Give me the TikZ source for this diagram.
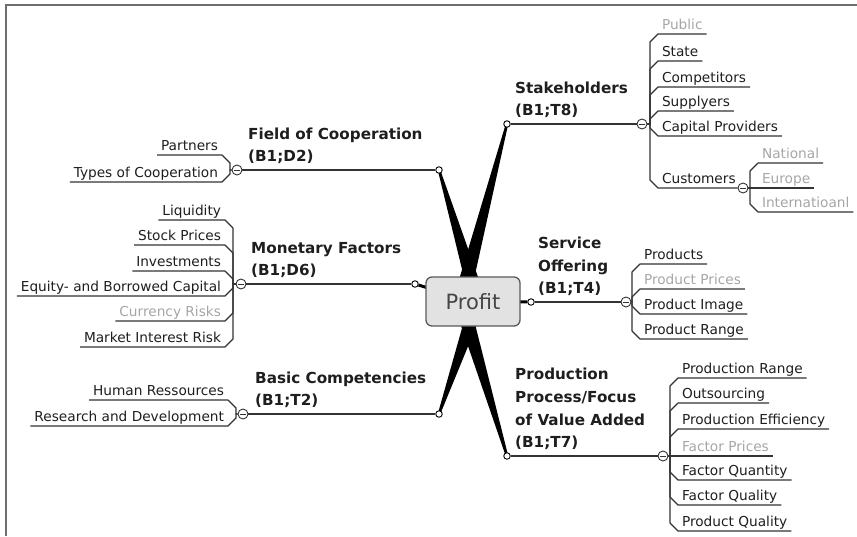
\documentclass[tikz,border=0pt]{standalone}
\usepackage{fontspec}
\setmainfont{DejaVu Sans}
\pgfdeclarelayer{bg}
\pgfsetlayers{bg,main}
\definecolor{ink}{HTML}{1E1E1E}
\definecolor{faded}{HTML}{A6A6A6}
\definecolor{wire}{HTML}{333333}
\definecolor{boxfill}{HTML}{E2E2E2}
\definecolor{boxline}{HTML}{5A5A5A}
\definecolor{hubtext}{HTML}{454545}
\definecolor{framecol}{HTML}{6E6E6E}
\newcommand\lblfont{\fontsize{13.7}{16}\selectfont}
\newcommand\ttlfont{\fontsize{15.2}{22.6}\selectfont\bfseries}

\begin{document}
\begin{tikzpicture}[x=1pt,y=-1pt,
  lbl/.style={font=\lblfont, inner xsep=4pt, inner ysep=0pt, outer sep=0pt, text height=10.5pt, text depth=5pt},
  txt/.style={text=ink},
  dim/.style={text=faded},
  ttl/.style={font=\ttlfont, text=ink, align=left, inner sep=0pt, anchor=south west},
  ln/.style={draw=wire, line width=1.2pt, line join=round},
  taper/.style={fill=black},
  endpt/.style={circle, draw=black, fill=white, line width=0.9pt, minimum size=6.5pt, inner sep=0pt},
  minus/.style={circle, draw=wire, fill=white, line width=0.9pt, minimum size=10pt, inner sep=0pt,
    path picture={\draw[wire, line width=1pt] ([xshift=-3pt]path picture bounding box.center) -- ([xshift=3pt]path picture bounding box.center);}},
  hub/.style={rounded corners=6pt, draw=boxline, fill=boxfill, line width=1.3pt, minimum width=94pt, minimum height=49pt,
    inner sep=0pt, text=hubtext, font=\fontsize{21}{25}\selectfont},
]
\useasboundingbox (0,0) rectangle (857,536);

% window frame (top and left edges)
\draw[framecol, line width=1.5pt] (857,5) -- (6,5) -- (6,536);

% central topic
\node[hub] (profit) at (473,301.5) {Profit};

% branch end points
\node[endpt] (fld-e) at (439,170) {};
\node[endpt] (stk-e) at (507,124) {};
\node[endpt] (mon-e) at (415,284) {};
\node[endpt] (srv-e) at (531,302) {};
\node[endpt] (bas-e) at (439,414) {};
\node[endpt] (prd-e) at (507,456) {};

% collapse markers
\node[minus] (fld-m) at (237,170) {};
\node[minus] (mon-m) at (241,284) {};
\node[minus] (bas-m) at (243,414) {};
\node[minus] (stk-m) at (642,124) {};
\node[minus] (srv-m) at (626,302) {};
\node[minus] (prd-m) at (663,456) {};

% main topic titles
\node[ttl] (fld-t) at (248,164) {Field of Cooperation\\(B1;D2)};
\node[ttl] (mon-t) at (251,278) {Monetary Factors\\(B1;D6)};
\node[ttl] (bas-t) at (255,408) {Basic Competencies\\(B1;T2)};
\node[ttl] (stk-t) at (515,118) {Stakeholders\\(B1;T8)};
\node[ttl] (srv-t) at (538,296) {Service\\Offering\\(B1;T4)};
\node[ttl] (prd-t) at (515,450) {Production\\Process/Focus\\of Value Added\\(B1;T7)};

\begin{pgfonlayer}{bg}
  % tapered branches: thin at the branch end, thick under the central box
  \fill[taper] (437.85,170.34) -- (470.33,303.28) -- (485.67,298.72) -- (440.15,169.66) -- cycle;
  \fill[taper] (440.13,414.39) -- (485.56,303.61) -- (470.44,298.39) -- (437.87,413.61) -- cycle;
  \fill[taper] (505.84,123.70) -- (453.26,298.99) -- (468.74,303.01) -- (508.16,124.30) -- cycle;
  \fill[taper] (508.15,455.66) -- (468.67,298.72) -- (453.33,303.28) -- (505.85,456.34) -- cycle;
  \draw[line width=3pt] (mon-e) -- (profit.center);
  \draw[line width=3pt] (srv-e) -- (profit.center);
  \draw[ln] (fld-e) -- (fld-m);
  \draw[ln] (mon-e) -- (mon-m);
  \draw[ln] (bas-e) -- (bas-m);
  \draw[ln] (stk-e) -- (stk-m);
  \draw[ln] (srv-e) -- (srv-m);
  \draw[ln] (prd-e) -- (prd-m);
\end{pgfonlayer}

% ---- left-hand subtopics ----
\foreach \nm/\yy/\txt/\tc in {par/155/Partners/txt, typ/182/Types of Cooperation/txt}{
  \node[lbl,\tc,anchor=south east] (\nm) at (222,\yy) {\txt};
  \pgfmathsetmacro\dy{\yy<170 ? 8 : -8}
  \begin{pgfonlayer}{bg}
    \draw[ln] (\nm.south west) -- (\nm.south east) -- ++(8,\dy) |- (fld-m);
  \end{pgfonlayer}
}
\foreach \nm/\yy/\txt/\tc in {liq/220/Liquidity/txt, stp/245/Stock Prices/txt, inv/271/Investments/txt,
    eqb/296/Equity- and Borrowed Capital/txt, cur/321/Currency Risks/dim, mir/347/Market Interest Risk/txt}{
  \node[lbl,\tc,anchor=south east] (\nm) at (225,\yy) {\txt};
  \pgfmathsetmacro\dy{\yy<284 ? 8 : -8}
  \begin{pgfonlayer}{bg}
    \draw[ln] (\nm.south west) -- (\nm.south east) -- ++(8,\dy) |- (mon-m);
  \end{pgfonlayer}
}
\foreach \nm/\yy/\txt/\tc in {hum/400/Human Ressources/txt, rad/426/Research and Development/txt}{
  \node[lbl,\tc,anchor=south east] (\nm) at (228,\yy) {\txt};
  \pgfmathsetmacro\dy{\yy<414 ? 8 : -8}
  \begin{pgfonlayer}{bg}
    \draw[ln] (\nm.south west) -- (\nm.south east) -- ++(8,\dy) |- (bas-m);
  \end{pgfonlayer}
}

% ---- right-hand subtopics ----
\foreach \nm/\yy/\txt/\tc in {pub/34/Public/dim, sta/61/State/txt, com/87/Competitors/txt,
    sup/111/Supplyers/txt, cap/136/Capital Providers/txt}{
  \node[lbl,\tc,anchor=south west] (\nm) at (658,\yy) {\txt};
  \pgfmathsetmacro\dy{\yy<124 ? 8 : -8}
  \begin{pgfonlayer}{bg}
    \draw[ln] (\nm.south east) -- (\nm.south west) -- ++(-8,\dy) |- (stk-m);
  \end{pgfonlayer}
}
\node[lbl,txt,anchor=south west] (cus) at (658,188) {Customers};
\node[minus] (cus-m) at (743,188) {};
\begin{pgfonlayer}{bg}
  \draw[ln] (cus-m) -- (cus.south west) -- ++(-8,-8) |- (stk-m);
\end{pgfonlayer}
\foreach \nm/\yy/\txt/\tc in {nat/163/National/dim, eur/188/Europe/dim, int/212/Internatioanl/dim}{
  \node[lbl,\tc,anchor=south west] (\nm) at (758,\yy) {\txt};
  \pgfmathsetmacro\dy{\yy<188 ? 8 : (\yy>188 ? -8 : 0)}
  \begin{pgfonlayer}{bg}
    \draw[ln] (\nm.south east) -- (\nm.south west) -- ++(-8,\dy) |- (cus-m);
  \end{pgfonlayer}
}
\foreach \nm/\yy/\txt/\tc in {pds/264/Products/txt, ppr/289/Product Prices/dim,
    pim/314/Product Image/txt, prg/339/Product Range/txt}{
  \node[lbl,\tc,anchor=south west] (\nm) at (640,\yy) {\txt};
  \pgfmathsetmacro\dy{\yy<302 ? 8 : -8}
  \begin{pgfonlayer}{bg}
    \draw[ln] (\nm.south east) -- (\nm.south west) -- ++(-8,\dy) |- (srv-m);
  \end{pgfonlayer}
}
\foreach \nm/\yy/\txt/\tc in {pra/378/Production Range/txt, out/403/Outsourcing/txt,
    pef/429/Production Efficiency/txt, fpr/456/Factor Prices/dim, fqn/480/Factor Quantity/txt,
    fql/505/Factor Quality/txt, pql/531/Product Quality/txt}{
  \node[lbl,\tc,anchor=south west] (\nm) at (678,\yy) {\txt};
  \pgfmathsetmacro\dy{\yy<456 ? 8 : (\yy>456 ? -8 : 0)}
  \begin{pgfonlayer}{bg}
    \draw[ln] (\nm.south east) -- (\nm.south west) -- ++(-8,\dy) |- (prd-m);
  \end{pgfonlayer}
}
\end{tikzpicture}
\end{document}
